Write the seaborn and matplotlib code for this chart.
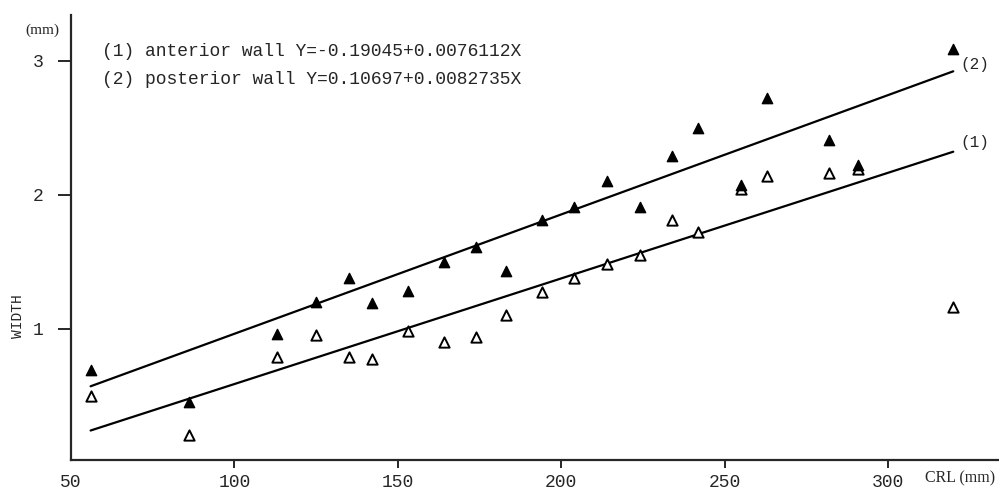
import matplotlib
matplotlib.use("Agg")
import matplotlib.pyplot as plt
import seaborn as sns
import pandas as pd

# CRL (mm) for each specimen
crl = [56, 86, 113, 125, 135, 142, 153, 164, 174, 183, 194, 204,
       214, 224, 234, 242, 255, 263, 282, 291, 320]
# (2) posterior wall, filled triangles
posterior = [0.69, 0.45, 0.96, 1.20, 1.38, 1.19, 1.28, 1.50, 1.61, 1.43, 1.81, 1.91,
             2.10, 1.91, 2.29, 2.50, 2.07, 2.72, 2.41, 2.22, 3.09]
# (1) anterior wall, open triangles
anterior = [0.50, 0.21, 0.79, 0.95, 0.79, 0.77, 0.98, 0.90, 0.94, 1.10, 1.27, 1.38,
            1.48, 1.55, 1.81, 1.72, 2.04, 2.14, 2.16, 2.19, 1.16]

# regression lines as drawn in the figure
line_x = [56, 320]
posterior_line = [0.57, 2.92]
anterior_line = [0.24, 2.32]

eq1 = "(1) anterior wall Y=-0.19045+0.0076112X"
eq2 = "(2) posterior wall Y=0.10697+0.0082735X"

xticks = [50, 100, 150, 200, 250, 300]
yticks = [1, 2, 3]

sns.set_style("ticks")
plt.rcParams['font.family'] = ['Liberation Mono', 'DejaVu Sans']

df = pd.DataFrame({'CRL': crl, 'posterior': posterior, 'anterior': anterior})

fig = plt.figure(figsize=(9.99, 4.92), dpi=100)
ax = fig.add_axes([71/999, 32/492, 1 - 71/999, 445/492])

sns.lineplot(x=line_x, y=posterior_line, ax=ax, color='black', linewidth=1.6)
sns.lineplot(x=line_x, y=anterior_line, ax=ax, color='black', linewidth=1.6)

sns.scatterplot(data=df, x='CRL', y='anterior', ax=ax, marker='^', s=55,
                facecolor='white', edgecolor='black', linewidth=1.4, zorder=3)
sns.scatterplot(data=df, x='CRL', y='posterior', ax=ax, marker='^', s=55,
                color='black', edgecolor='black', linewidth=1.0, zorder=4)

ax.set_xlim(50, 334)
ax.set_ylim(0.02, 3.34)
sns.despine(ax=ax)
for sp in ax.spines.values():
    sp.set_linewidth(1.6)

ax.set_xticks(xticks)
ax.set_xticklabels([str(t) for t in xticks])
ax.set_yticks(yticks)
ax.set_yticklabels([str(t) for t in yticks])
ax.tick_params(axis='x', direction='out', length=6, width=1.4, pad=4, labelsize=13)
ax.tick_params(axis='y', direction='out', length=9.5, width=1.4, pad=10, labelsize=13)
ax.xaxis.get_major_ticks()[0].tick1line.set_visible(False)

ax.set_xlabel("")
ax.set_ylabel("WIDTH", fontsize=10.5)
ax.yaxis.set_label_coords(-46/928, (460 - 316)/445)

fig.text(102/999, 1 - 52/492, eq1, fontsize=13, va='center', ha='left')
fig.text(102/999, 1 - 79/492, eq2, fontsize=13, va='center', ha='left')
fig.text(960/999, 1 - 64/492, "(2)", fontsize=11.5, va='center', ha='left')
fig.text(960/999, 1 - 142/492, "(1)", fontsize=11.5, va='center', ha='left')
fig.text(42/999, 1 - 30/492, "(mm)", fontsize=11, va='center', ha='center',
         family='Liberation Serif')
fig.text(960/999, 1 - 478/492, "CRL (mm)", fontsize=11.5, va='center', ha='center',
         family='Liberation Serif')

fig.savefig("out.png", dpi=100)
